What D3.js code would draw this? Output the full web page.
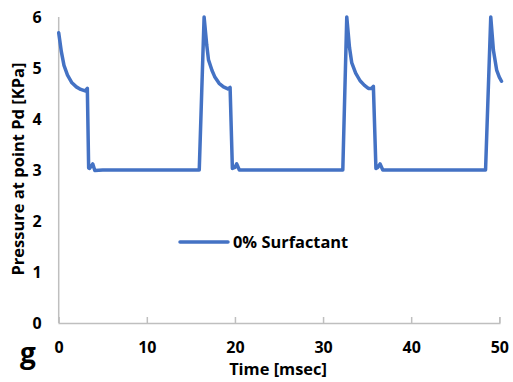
<!DOCTYPE html>
<html><head><meta charset="utf-8">
<script src="https://cdn.jsdelivr.net/npm/d3@7/dist/d3.min.js"></script>
<style>body{margin:0;background:#fff}svg{display:block}text{font-family:"Open Sans",sans-serif;font-weight:bold;fill:#000}</style>
</head><body><div id="chart"></div>
<script>
const seriesName = "0% Surfactant";
const timeMs = [0,0.3,0.6,1.0,1.5,2.0,2.5,3.0,3.25,3.4,3.5,3.86,4.1,5,7,9,11,13,15,15.95,
  16.5,16.8,17.0,17.4,17.7,18.2,18.7,19.2,19.45,19.71,20.0,20.2,20.5,22,24,26,28,30,32.24,
  32.69,33.0,33.26,33.7,34.2,34.7,35.14,35.5,35.71,36.0,36.2,36.47,36.78,38,40,42,44,46,48.44,
  49.03,49.33,49.7,50.0,50.25];
const pressure = [5.69,5.32,5.05,4.86,4.71,4.63,4.58,4.55,4.6,3.04,3.03,3.12,2.99,3.0,3.0,3.0,3.0,3.0,3.0,3.0,
  6.0,5.45,5.16,4.95,4.83,4.7,4.63,4.59,4.62,3.03,3.05,3.12,3.0,3.0,3.0,3.0,3.0,3.0,3.0,
  6.0,5.4,5.1,4.9,4.75,4.66,4.6,4.6,4.64,3.03,3.05,3.12,3.0,3.0,3.0,3.0,3.0,3.0,3.0,
  6.0,5.35,4.96,4.82,4.74];
const xTicks = [0,10,20,30,40,50];
const yTicks = [0,1,2,3,4,5,6];
const xLabel = "Time [msec]";
const yLabel = "Pressure at point Pd [KPa]";
const panelLabel = "g";

const W = 513, H = 382;
const svg = d3.select("#chart").append("svg").attr("width", W).attr("height", H);
const x = d3.scaleLinear().domain([0,50]).range([58.7,499.3]);
const y = d3.scaleLinear().domain([0,6]).range([323,17]);
const axisColor = "#BFBFBF";

// y axis line
svg.append("line").attr("x1",x(0)).attr("x2",x(0)).attr("y1",y(6)).attr("y2",y(0))
  .attr("stroke",axisColor).attr("stroke-width",1.5);
// x axis
const xa = svg.append("g").attr("transform",`translate(0,${y(0)})`)
  .call(d3.axisBottom(x).tickValues(xTicks).tickSize(-6).tickPadding(0).tickFormat(d3.format("d")));
xa.select(".domain").attr("stroke",axisColor).attr("stroke-width",1.5);
xa.selectAll(".tick line").attr("stroke",axisColor).attr("stroke-width",1.5);
xa.selectAll(".tick text").attr("y",30).attr("dy",0).attr("font-size",16)
  .style("font-family","'Open Sans',sans-serif").style("font-weight","bold").attr("fill","#000");
xa.selectAll(".tick").filter(d=>d===0).select("line").remove();

// y tick labels
const ya = svg.append("g").attr("transform",`translate(${x(0)},0)`)
  .call(d3.axisLeft(y).tickValues(yTicks).tickSize(0).tickPadding(17).tickFormat(d3.format("d")));
ya.select(".domain").remove();
ya.selectAll(".tick text").attr("font-size",16).attr("dy","0.36em")
  .style("font-family","'Open Sans',sans-serif").style("font-weight","bold").attr("fill","#000");

// line
const line = d3.line().x((d,i)=>x(timeMs[i])).y(d=>y(d));
svg.append("path").datum(pressure).attr("d",line).attr("fill","none")
  .attr("stroke","#4472C4").attr("stroke-width",3.5).attr("stroke-linejoin","round").attr("stroke-linecap","round");

// legend
svg.append("line").attr("x1",180).attr("x2",228).attr("y1",242).attr("y2",242)
  .attr("stroke","#4472C4").attr("stroke-width",3.5).attr("stroke-linecap","round");
svg.append("text").attr("x",233).attr("y",248).attr("font-size",16.4).text(seriesName);

// axis titles
svg.append("text").attr("x",278).attr("y",375).attr("text-anchor","middle").attr("font-size",16.4).text(xLabel);
svg.append("text").attr("transform","translate(24,169) rotate(-90)").attr("text-anchor","middle")
  .attr("font-size",16.5).text(yLabel);
svg.append("text").attr("x",20).attr("y",363).attr("font-size",28).text(panelLabel);
</script></body></html>
